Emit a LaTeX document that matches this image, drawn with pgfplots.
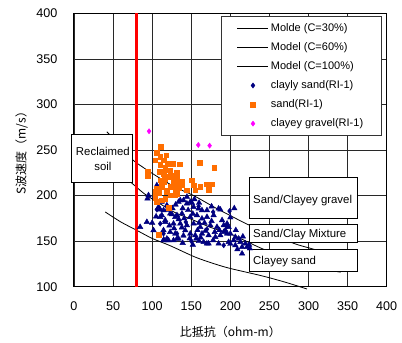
\documentclass[border=0pt]{standalone}
\usepackage{fontspec}
\setmainfont{Liberation Sans}
\newfontfamily\jp{Noto Sans CJK JP}
\usepackage{pgfplots}
\pgfplotsset{compat=1.18}
\definecolor{navyb}{RGB}{0,0,128}
\definecolor{orng}{RGB}{255,110,0}
\definecolor{magn}{RGB}{255,0,255}
\definecolor{gridc}{RGB}{40,40,40}
\begin{document}
\begin{tikzpicture}
\begin{axis}[
 scale only axis, width=312.7pt, height=273.4pt,
 xmin=0,xmax=400,ymin=100,ymax=400,
 xtick={0,50,...,400}, ytick={100,150,...,400},
 xmajorgrids, ymajorgrids,
 major grid style={draw=gridc, line width=0.65pt},
 axis line style={draw=black, line width=1pt},
 major tick length=0pt,
 tick label style={font=\fontsize{12.6}{14}\selectfont},
 /pgf/number format/assume math mode=true,
 xticklabel style={yshift=-11pt},
 yticklabel style={xshift=-13pt},
 clip=false,
 legend style={at={(0.984,0.990)}, anchor=north east, draw=black!80, line width=1pt, fill=white,
   font=\fontsize{11}{13}\selectfont, inner xsep=16pt, inner ysep=5pt, row sep=5.6pt},
 legend cell align=left,
 legend image code/.code={\draw[mark repeat=2,mark phase=2,#1] plot coordinates {(0pt,0pt) (15.5pt,0pt) (31pt,0pt)};},
]
\addplot[black, line width=0.8pt, smooth] coordinates {(42,270)(60,254)(74,240)(90,230)(110,219)(130,209)(153,200)(180,187)(200,178)(223,168)(250,158)(283,147)(303,142)(315,139)};
\addlegendentry{Molde (C=30\%)}
\addplot[black, line width=0.8pt, smooth] coordinates {(40,236)(72,215)(90,202)(110,191)(130,181)(153,173)(175,165)(200,158)(220,150)(240,142)(270,132)(300,124)(320,119)(341,116)};
\addlegendentry{Model (C=60\%)}
\addplot[black, line width=0.8pt, smooth] coordinates {(40,182)(60,171)(80,162)(100,153)(123,145)(155,132.5)(180,125)(200,120)(240,112)(270,105)(298,97.5)};
\addlegendentry{Model (C=100\%)}
\addplot[draw=red, line width=2.3pt, forget plot] coordinates {(80,100)(80,400)};
\addplot[only marks, mark=triangle*, mark size=3.2pt, navyb, line width=0.4pt, mark options={fill=navyb, draw=navyb}, forget plot] coordinates {
(133.7,193)(140.1,194.8)(144.4,191.2)(150.9,191.9)(153,187.5)(159.4,185.7)(163.7,183.8)(170.1,183.8)(185,185.7)
(118.8,189.3)(114.5,183.8)(123,180.2)(131.7,178.4)(138.1,180.2)(148.7,176.5)(157.3,178.4)(163.7,174.7)(170.1,176.5)(178.6,178.4)(189.4,172.9)
(116.7,171)(127.3,169.2)(135.9,169.2)(144.4,167.4)(153,169.2)(161.5,165.5)(174.4,167.4)(182.9,165.5)(195.8,169.2)(193.6,161.9)(200,158.2)
(123,160)(129.5,158.2)(142.3,161.9)(148.7,158.2)(155.1,156.4)(163.7,158.2)(172.2,156.4)(180.8,154.5)(187.2,156.4)
(118.8,150.9)(127.3,150.9)(133.7,152.7)(165.8,149)(172.2,147.3)(185,147.3)(197.8,149)(206.4,145.4)
(191.5,167.4)(197.8,165.5)(191.5,160)(195.8,158.2)(206.4,154.5)(210.7,152.7)(204.3,150.9)(212.8,149)(219.2,147.3)(215,143.6)(221.4,143.6)(215,136.3)
(95.3,200.3)(103.8,198.5)(108.1,187.5)(84.6,165.5)(93.2,171)(101.7,161.9)(114.5,161.9)(116.7,172.9)(118.8,152.7)(114.5,150.9)(112.4,178.4)(118.8,184)
(94,196.7)(106,211.3)(121,150.9)(187.2,184.6)(170,147.3)(156.4,152.7)(114.8,151.6)(131.7,152.7)(129.5,176.5)(144.4,198.5)(148.7,193)(135.9,194.8)(110.3,184.6)(125.2,179.5)(110.3,176.5)
(141,175)(146,184)(152,180)(160,170)(167,170)(176,172)(180,160)(186,162)(168,161)(158,162)(138,165)(134,174)(126,186)(130,190)(139,186)(154,196)(160,192)(176,188)(200,176)(207,162)(216,155)(224,146)(225,142)(209,141)(178,151)(160,150)(148,153)(140,156)(128,164)(122,167)(105,177)(100,170)(112,193)(139,148)(152,146)(200,147)(162,154)(205,186)
};
\addplot[only marks, mark=diamond*, mark size=2.6pt, navyb, line width=0.4pt, mark options={fill=navyb, draw=navyb}] coordinates {
(199,183)(110.3,169.2)(159.4,188.2)(114.5,158.2)(191.5,145.4)(131.7,158.2)(195.8,166.3)(106,184.6)(170,163)(150,150)(178,182)(143,171)};
\addlegendentry{clayly sand(RI-1)}
\addplot[only marks, mark=square*, mark size=2.3pt, orng, line width=0.4pt, mark options={fill=orng, draw=orng}] coordinates {
(111.1,253.4)(106,246.8)(117.9,244.3)(110.3,242.4)(103.8,238.8)(114.5,238.8)(126.5,235.2)(135,234.4)(110.3,233.7)(116.7,230.8)(160.7,235.8)(179.5,230.3)(94,226)(94,221.2)(123,227.8)(131.7,224.8)(114.5,224.1)(120.9,220.4)(127.3,218.7)(138,215)(150.9,216.8)(153,211.3)(161.5,209.5)(169.2,212.4)(176.5,212.4)(144.4,205.8)(114.5,215)(112.4,209.5)(118.8,205.8)(127.3,209.5)(131.7,202.2)(123,200.3)(108,202.9)(155.1,205.8)(172.2,206.6)(103.8,204)(103.8,197.8)(106,193)(120.9,186.8)(108,157.1)(112.4,194.8)(116.7,196.7)(129.5,200.3)(127.3,215)(131.7,220.4)(118.8,227.8)(123,209.5)(118.8,204)(129.5,206.6)(135,213.8)(137.7,211.3)(110.3,216.8)(112.4,211.3)(106,207.7)(120,235)(124,222)(116,218)(134,208)(110,226)};
\addlegendentry{sand(RI-1)}
\addplot[only marks, mark=diamond*, mark size=2.6pt, magn, line width=0.4pt, mark options={fill=magn, draw=magn}] coordinates {(96,270.6)(159,255.5)(173.5,254.8)};
\addlegendentry{clayey gravel(RI-1)}
% annotation boxes
\draw[fill=white, line width=1pt] (axis cs:-2.9,214.3) rectangle (axis cs:74.7,267.4);
\node[align=center, font=\fontsize{11.4}{15.3}\selectfont] at (axis cs:37,240) {Reclaimed\\soil};
\draw[fill=white, line width=1pt] (axis cs:224.4,174.7) rectangle (axis cs:362.4,219.8);
\node[anchor=west, font=\fontsize{11.4}{13}\selectfont, inner sep=0pt] at (axis cs:229,195) {Sand/Clayey gravel};
\draw[fill=white, line width=1pt] (axis cs:224.4,148.4) rectangle (axis cs:362.4,168.1);
\node[anchor=west, font=\fontsize{11.4}{13}\selectfont, inner sep=0pt] at (axis cs:229,157.5) {Sand/Clay Mixture};
\draw[fill=white, line width=1pt] (axis cs:224.4,117.1) rectangle (axis cs:362.4,141);
\node[anchor=west, font=\fontsize{11.4}{13}\selectfont, inner sep=0pt] at (axis cs:229,127.5) {Clayey sand};
% axis labels
\node[font={\jp\fontsize{12}{14}\selectfont}] at (axis description cs:0.5,-0.166) {比抵抗（ohm-m）};
\node[rotate=90, font={\jp\fontsize{12}{14}\selectfont}] at (axis description cs:-0.168,0.5) {S波速度（m/s）};
\end{axis}
\path ([shift={(-74pt,-56.3pt)}]current axis.south west) rectangle ([shift={(328pt,286.7pt)}]current axis.south west);
\end{tikzpicture}
\end{document}
